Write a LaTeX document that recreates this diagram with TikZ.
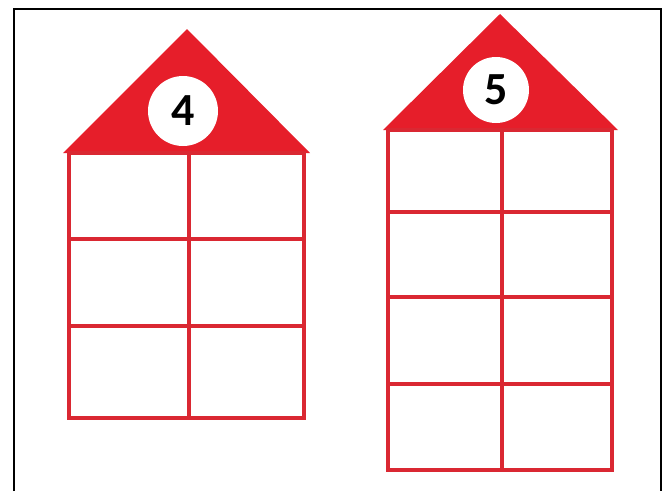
\documentclass[tikz,border=0pt]{standalone}
\usepackage{fontspec}
\newfontfamily\digitfont{Carlito}
\definecolor{roofRed}{HTML}{E61E2A}
\definecolor{wallRed}{HTML}{DA2832}

\tikzset{
    roof/.style={fill=roofRed},
    walls/.style={draw=wallRed, line width=4.5pt},
    badge/.style={circle, fill=white, inner sep=0pt,
        font=\digitfont\bfseries\fontsize{46}{46}\selectfont}
}

\begin{document}
\begin{tikzpicture}[x=1pt, y=-1pt]
    \useasboundingbox (0,0) rectangle (672,491);
    \draw[line width=2pt] (14,491) -- (14,9) -- (661,9) -- (661,491);

    % house of four
    \fill[roof] (63,153) -- (187,29) -- (310,153) -- cycle;
    \node[badge, minimum size=70pt] (badgeFour) at (183,111) {4};
    \draw[walls] (69,153) rectangle (304,418);
    \draw[walls] (189,153) -- (189,418);
    \foreach \y in {239,326}
        \draw[walls] (69,\y) -- (304,\y);

    % house of five
    \fill[roof] (383,130) -- (500,14) -- (618,130) -- cycle;
    \node[badge, minimum size=66pt] (badgeFive) at (496,90) {5};
    \draw[walls] (388,130) rectangle (612,470);
    \draw[walls] (502,130) -- (502,470);
    \foreach \y in {212,297,384}
        \draw[walls] (388,\y) -- (612,\y);
\end{tikzpicture}
\end{document}
